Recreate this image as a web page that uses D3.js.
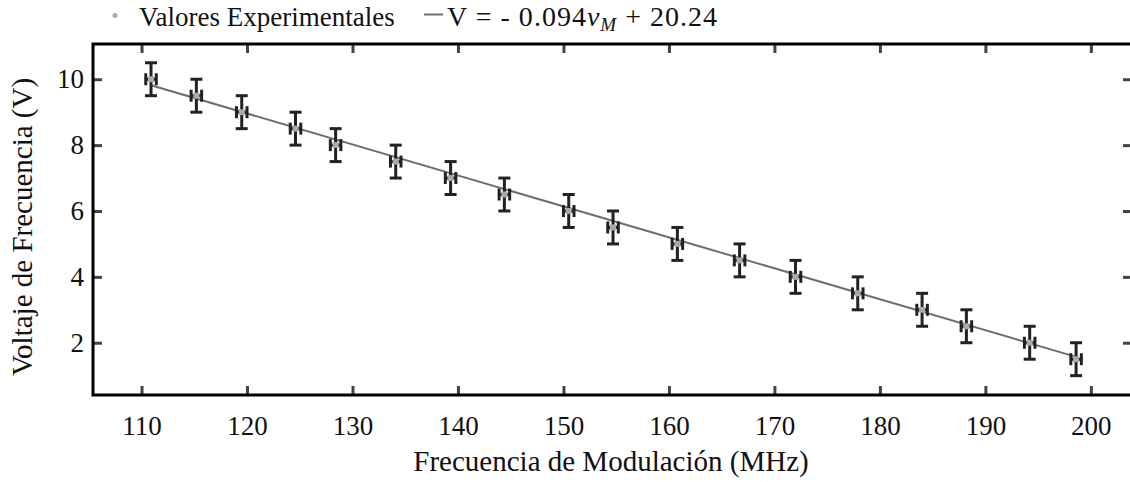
<!DOCTYPE html>
<html>
<head>
<meta charset="utf-8">
<script src="https://cdn.jsdelivr.net/npm/d3@7"></script>
<style>
  body { margin: 0; background: #fff; }
  svg text { font-family: 'Liberation Serif', 'Times New Roman', Times, serif; fill: #111; }
</style>
</head>
<body>
<script>
var width = 1130;
var height = 482;
var margin = {top: 44, right: -2, bottom: 87, left: 93};
var w = width - margin.left - margin.right;
var h = height - margin.top - margin.bottom;
var serif = "'Liberation Serif', 'Times New Roman', Times, serif";

// measured points (frecuencia MHz, voltaje V)
var freq = [110.9, 115.2, 119.5, 124.6, 128.4, 134.1, 139.3, 144.4, 150.5, 154.7,
            160.8, 166.7, 172.0, 177.9, 184.0, 188.2, 194.2, 198.6];
var volt = [10, 9.5, 9, 8.5, 8, 7.5, 7, 6.5, 6, 5.5, 5, 4.5, 4, 3.5, 3, 2.5, 2, 1.5];
var errFreq = 0.5;
var errVolt = 0.5;

// fit V = -0.094 vM + 20.24
var slope = -0.094;
var intercept = 20.24;

var xTicks = [110, 120, 130, 140, 150, 160, 170, 180, 190, 200];
var yTicks = [2, 4, 6, 8, 10];

var dataset = freq.map(function(f, i) { return {f: f, v: volt[i]}; });

var svg = d3.select("body").append("svg")
    .attr("width", width)
    .attr("height", height)
    .attr("font-family", serif);

var chart = svg.append("g")
    .attr("transform", "translate(" + margin.left + "," + margin.top + ")");

var x = d3.scaleLinear()
    .domain([105.4, 203.9])
    .range([0, w]);

var y = d3.scaleLinear()
    .domain([0.413, 11.07])
    .range([h, 0]);

function styleAxis(g, labels) {
  g.attr("font-family", serif);
  g.select(".domain").remove();
  g.selectAll(".tick line").attr("stroke", "#444").attr("stroke-width", 3);
  if (labels) {
    g.selectAll(".tick text").style("font-size", "27px").attr("fill", "#111");
  } else {
    g.selectAll(".tick text").remove();
  }
}

chart.append("g")
    .attr("transform", "translate(0," + h + ")")
    .call(d3.axisBottom(x).tickValues(xTicks).tickSize(-9).tickPadding(21).tickFormat(d3.format("d")))
    .call(styleAxis, true);

chart.append("g")
    .call(d3.axisTop(x).tickValues(xTicks).tickSize(-9))
    .call(styleAxis, false);

chart.append("g")
    .call(d3.axisLeft(y).tickValues(yTicks).tickSize(-9).tickPadding(9).tickFormat(d3.format("d")))
    .call(styleAxis, true);

chart.append("g")
    .attr("transform", "translate(" + w + ",0)")
    .call(d3.axisRight(y).tickValues(yTicks).tickSize(-9))
    .call(styleAxis, false);

// fit line
var xs = d3.extent(freq);
chart.append("line")
    .attr("x1", x(xs[0])).attr("y1", y(slope * xs[0] + intercept))
    .attr("x2", x(xs[1])).attr("y2", y(slope * xs[1] + intercept))
    .attr("stroke", "#6e6e6e")
    .attr("stroke-width", 2);

// error bars
var eb = chart.selectAll(".eb")
    .data(dataset)
  .enter().append("g")
    .attr("class", "eb")
    .attr("stroke", "#222")
    .attr("stroke-width", 3)
    .attr("fill", "none");

var cap = 6;
eb.append("line")
    .attr("x1", function(d) { return x(d.f); })
    .attr("x2", function(d) { return x(d.f); })
    .attr("y1", function(d) { return y(d.v - errVolt); })
    .attr("y2", function(d) { return y(d.v + errVolt); });
eb.append("line")
    .attr("x1", function(d) { return x(d.f) - cap; })
    .attr("x2", function(d) { return x(d.f) + cap; })
    .attr("y1", function(d) { return y(d.v + errVolt); })
    .attr("y2", function(d) { return y(d.v + errVolt); });
eb.append("line")
    .attr("x1", function(d) { return x(d.f) - cap; })
    .attr("x2", function(d) { return x(d.f) + cap; })
    .attr("y1", function(d) { return y(d.v - errVolt); })
    .attr("y2", function(d) { return y(d.v - errVolt); });
eb.append("line")
    .attr("x1", function(d) { return x(d.f - errFreq); })
    .attr("x2", function(d) { return x(d.f + errFreq); })
    .attr("y1", function(d) { return y(d.v); })
    .attr("y2", function(d) { return y(d.v); });
eb.append("line")
    .attr("x1", function(d) { return x(d.f - errFreq); })
    .attr("x2", function(d) { return x(d.f - errFreq); })
    .attr("y1", function(d) { return y(d.v) - cap; })
    .attr("y2", function(d) { return y(d.v) + cap; });
eb.append("line")
    .attr("x1", function(d) { return x(d.f + errFreq); })
    .attr("x2", function(d) { return x(d.f + errFreq); })
    .attr("y1", function(d) { return y(d.v) - cap; })
    .attr("y2", function(d) { return y(d.v) + cap; });

// points
chart.selectAll(".pt")
    .data(dataset)
  .enter().append("rect")
    .attr("class", "pt")
    .attr("x", function(d) { return x(d.f) - 3; })
    .attr("y", function(d) { return y(d.v) - 3; })
    .attr("width", 6)
    .attr("height", 6)
    .attr("fill", "#aaa");

// frame
chart.append("rect")
    .attr("width", w)
    .attr("height", h)
    .attr("fill", "none")
    .attr("stroke", "#000")
    .attr("stroke-width", 3);

// axis titles
svg.append("text")
    .attr("x", 611)
    .attr("y", 471)
    .attr("text-anchor", "middle")
    .style("font-size", "29px")
    .text("Frecuencia de Modulación (MHz)");

svg.append("text")
    .attr("transform", "translate(32,227) rotate(-90)")
    .attr("text-anchor", "middle")
    .style("font-size", "29px")
    .text("Voltaje de Frecuencia (V)");

// legend
var leg = svg.append("g");
leg.append("circle")
    .attr("cx", 115).attr("cy", 15.5).attr("r", 2.5)
    .attr("fill", "#aaa");
leg.append("text")
    .attr("x", 139).attr("y", 26)
    .style("font-size", "27px")
    .text("Valores Experimentales");
leg.append("line")
    .attr("x1", 424).attr("x2", 443)
    .attr("y1", 14.5).attr("y2", 14.5)
    .attr("stroke", "#6e6e6e").attr("stroke-width", 2);
var eq = leg.append("text")
    .attr("x", 447).attr("y", 26)
    .attr("textLength", 270)
    .attr("lengthAdjust", "spacing")
    .style("font-size", "28px");
eq.append("tspan").text("V = - 0.094");
eq.append("tspan").style("font-style", "italic").text("ν");
eq.append("tspan").style("font-style", "italic").style("font-size", "19px").attr("dy", 5).text("M");
eq.append("tspan").attr("dy", -5).text(" + 20.24");
</script>
</body>
</html>
